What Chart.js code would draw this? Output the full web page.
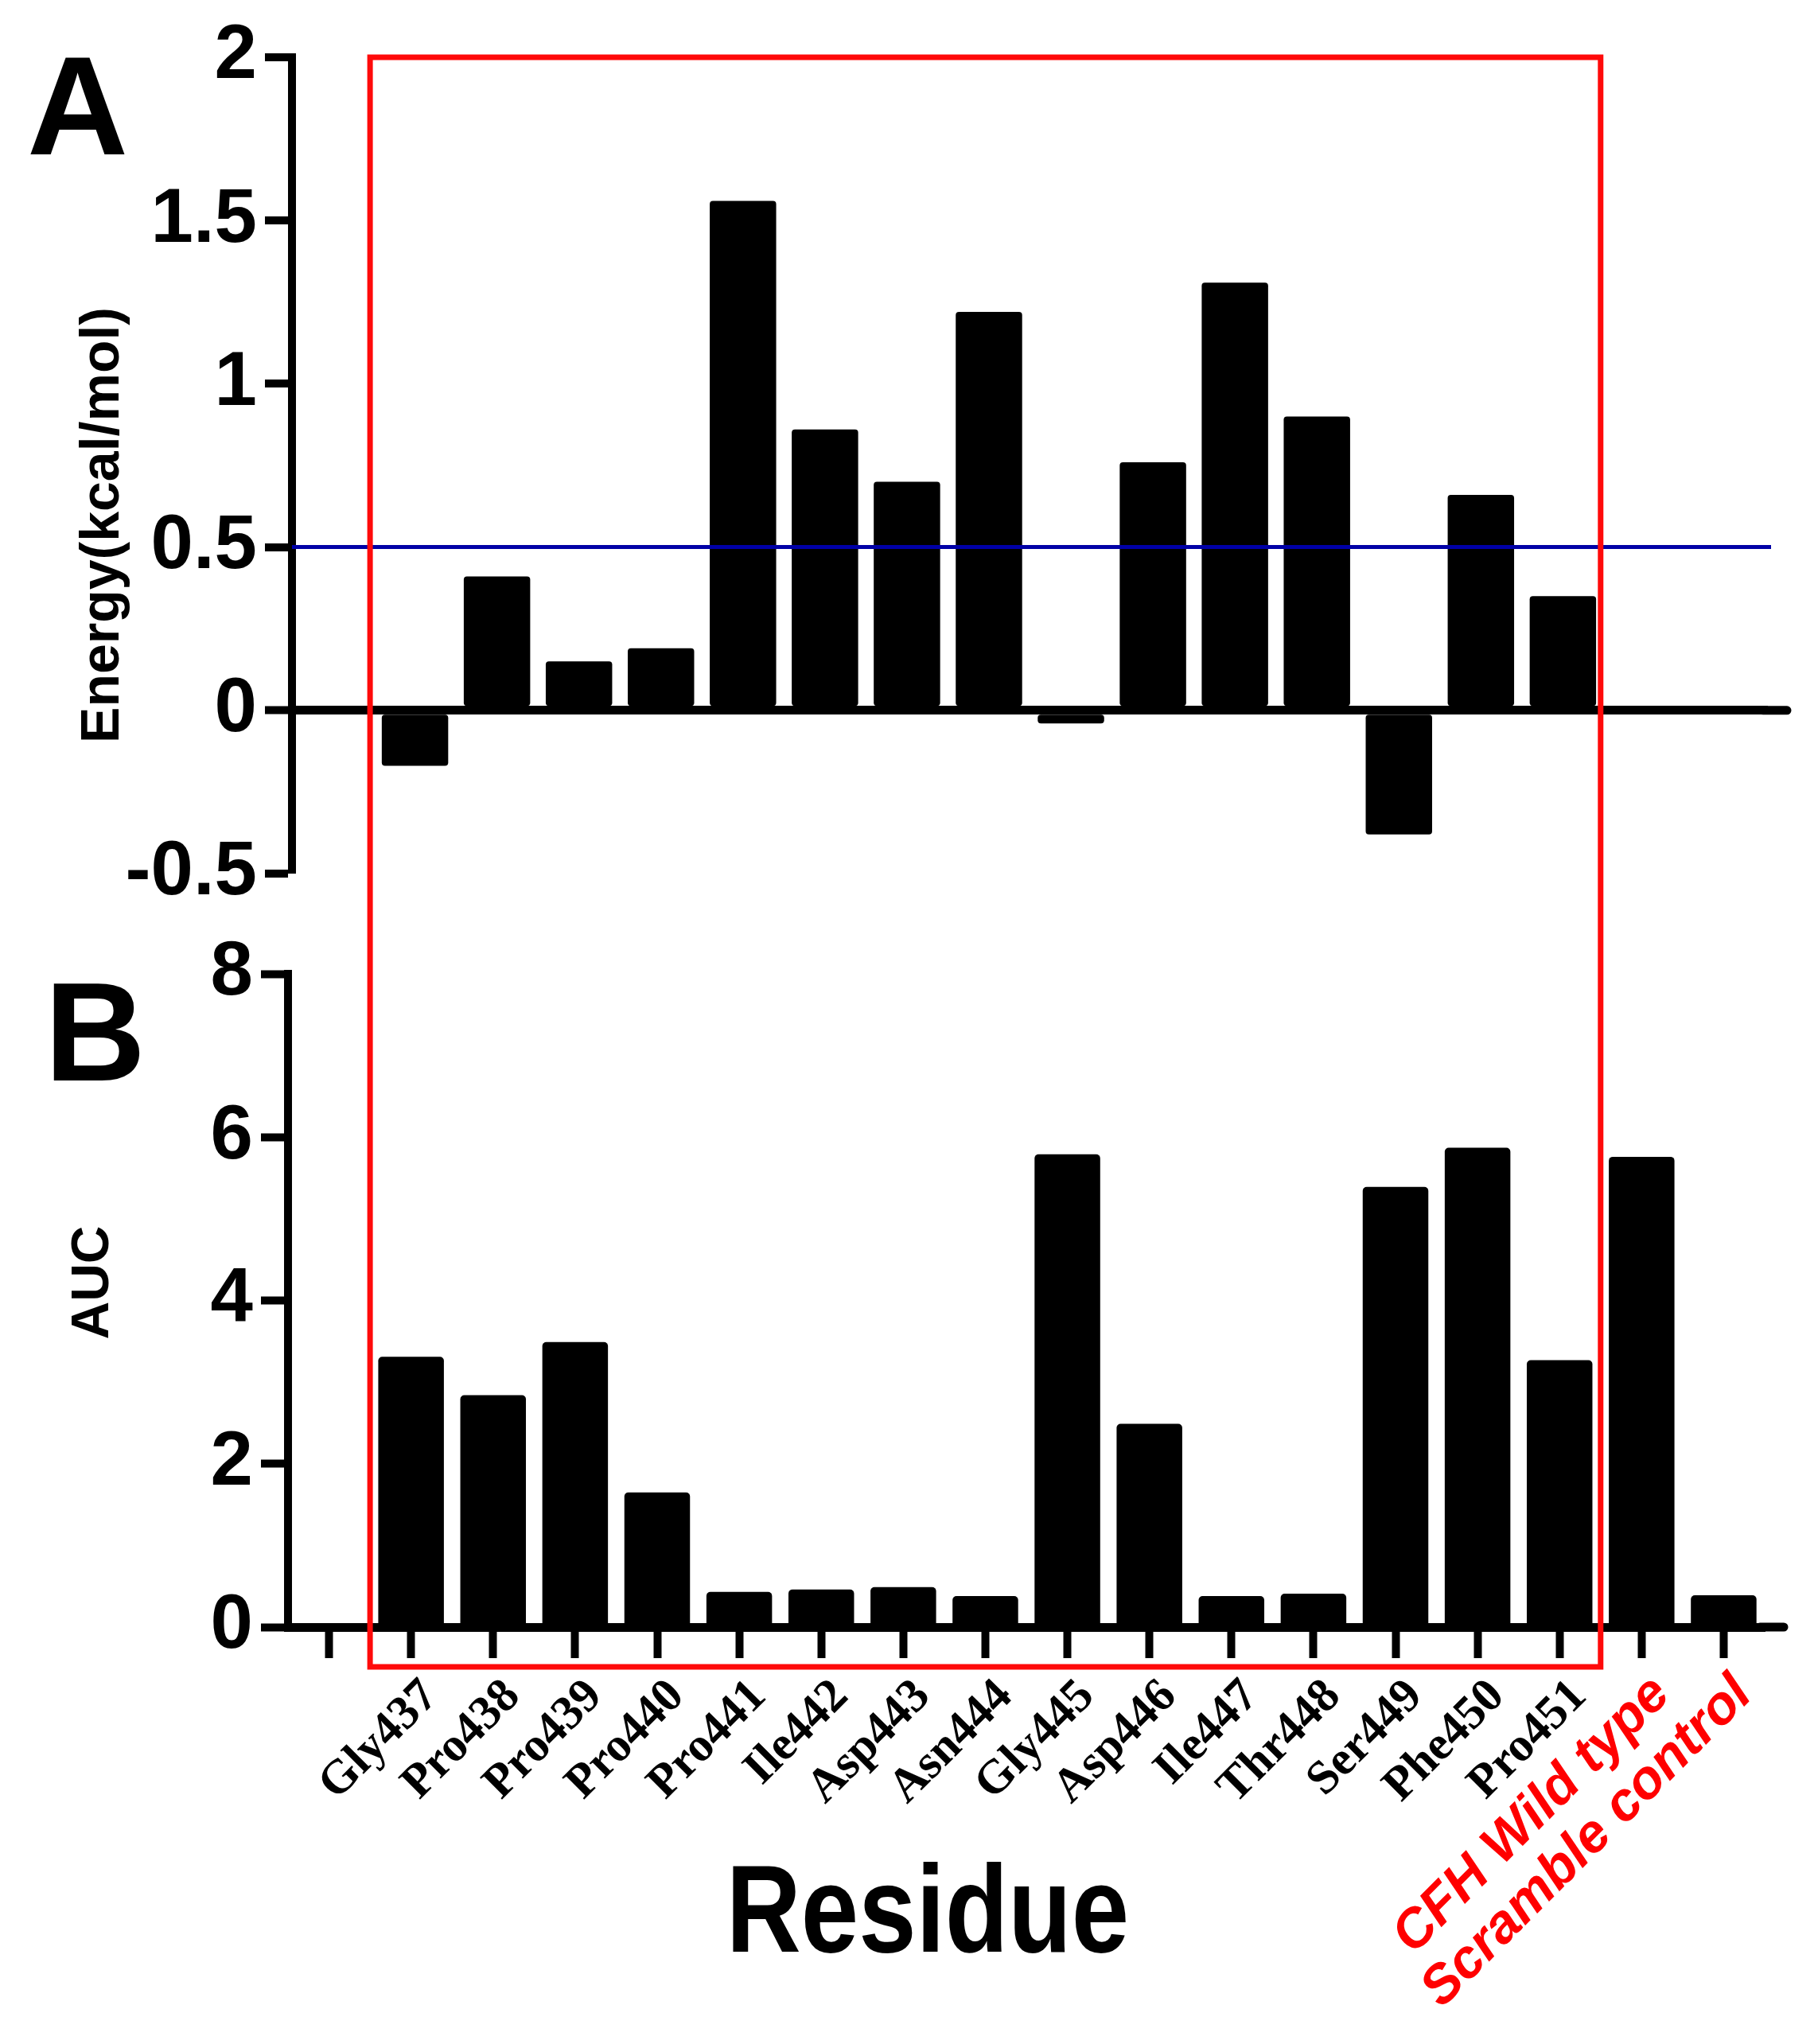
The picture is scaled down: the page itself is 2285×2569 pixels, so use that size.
<!DOCTYPE html>
<html>
<head>
<meta charset="utf-8">
<script src="https://cdn.jsdelivr.net/npm/chart.js@4.4.1/dist/chart.umd.min.js"></script>
<style>
  html, body { margin: 0; padding: 0; background: #ffffff; }
  #wrap { position: relative; width: 2285px; height: 2569px; background: #ffffff; }
  canvas { position: absolute; left: 0; top: 0; }
</style>
</head>
<body>
<div id="wrap">
  <canvas id="chartA" width="2285" height="2569"></canvas>
  <canvas id="chartB" width="2285" height="2569"></canvas>
</div>
<script>
// ---------------- data ----------------
const categories = ['', 'Gly437', 'Pro438', 'Pro439', 'Pro440', 'Pro441', 'Ile442', 'Asp443',
  'Asn444', 'Gly445', 'Asp446', 'Ile447', 'Thr448', 'Ser449', 'Phe450', 'Pro451',
  'CFH Wild type', 'Scramble control'];
const controlLabels = ['CFH Wild type', 'Scramble control'];

// Panel A: binding energy per residue (Gly437 ... Pro451)
const energyValues = [-0.17, 0.41, 0.15, 0.19, 1.56, 0.86, 0.70, 1.22, -0.04, 0.76, 1.31, 0.90, -0.38, 0.66, 0.35];
const energyThreshold = [0.5];
const energyTicks = [-0.5, 0, 0.5, 1, 1.5, 2];

// Panel B: AUC per residue plus controls (Gly437 ... Pro451, CFH Wild type, Scramble control)
const aucValues = [3.31, 2.84, 3.49, 1.65, 0.43, 0.46, 0.49, 0.38, 5.79, 2.49, 0.38, 0.41, 5.39, 5.87, 3.27, 5.76, 0.39];
const aucTicks = [0, 2, 4, 6, 8];

const panelLabels = ['A', 'B'];
const axisTitles = ['Energy(kcal/mol)', 'AUC', 'Residue'];

// ---------------- helpers ----------------
Chart.defaults.font.family = 'Liberation Sans';
Chart.defaults.color = '#000';

const energyData = [null].concat(energyValues, [null, null]);
const aucData = [null].concat(aucValues);
const tickStep = arr => arr[1] - arr[0];

let chartARef = null;

function extendZeroLine(chart, yScale, width) {
  const { ctx, chartArea } = chart;
  const py = yScale.getPixelForValue(0);
  ctx.save();
  ctx.strokeStyle = '#000';
  ctx.lineWidth = width;
  ctx.lineCap = 'round';
  ctx.beginPath();
  ctx.moveTo(chartArea.right - 6, py);
  ctx.lineTo(chartArea.right + 24, py);
  ctx.stroke();
  ctx.restore();
}

const panelAPlugin = {
  id: 'panelAPlugin',
  afterDatasetsDraw(chart) {
    const { ctx, chartArea, scales } = chart;
    extendZeroLine(chart, scales.y, 11);
    const py = scales.y.getPixelForValue(energyThreshold[0]);
    ctx.save();
    ctx.strokeStyle = '#0000a6';
    ctx.lineWidth = 5;
    ctx.beginPath();
    ctx.moveTo(chartArea.left, py);
    ctx.lineTo(chartArea.right + 4, py);
    ctx.stroke();
    ctx.restore();
  },
  afterDraw(chart) {
    const { ctx } = chart;
    ctx.save();
    ctx.fillStyle = '#000';
    ctx.font = 'bold 176px "Liberation Sans"';
    ctx.textAlign = 'left';
    ctx.textBaseline = 'alphabetic';
    ctx.fillText(panelLabels[0], 34, 194);
    // y title
    ctx.translate(130, 660);
    ctx.rotate(-Math.PI / 2);
    ctx.font = 'bold 68px "Liberation Sans"';
    ctx.textAlign = 'center';
    ctx.textBaseline = 'middle';
    ctx.fillText(axisTitles[0], 0, 0);
    ctx.restore();
  }
};

const panelBPlugin = {
  id: 'panelBPlugin',
  afterDraw(chart) {
    const { ctx, chartArea, scales } = chart;
    extendZeroLine(chart, scales.y, 11);
    ctx.save();
    ctx.fillStyle = '#000';
    ctx.font = 'bold 176px "Liberation Sans"';
    ctx.textAlign = 'left';
    ctx.textBaseline = 'alphabetic';
    ctx.fillText(panelLabels[1], 56, 1358);

    // x title
    ctx.save();
    ctx.translate(1166, 2453);
    ctx.scale(0.84, 1);
    ctx.font = 'bold 155px "Liberation Sans"';
    ctx.textAlign = 'center';
    ctx.fillText(axisTitles[2], 0, 0);
    ctx.restore();

    // y title
    ctx.save();
    ctx.translate(118, 1612);
    ctx.rotate(-Math.PI / 2);
    ctx.font = 'bold 66px "Liberation Sans"';
    ctx.textAlign = 'center';
    ctx.textBaseline = 'middle';
    ctx.fillText(axisTitles[1], 0, 0);
    ctx.restore();

    // red highlight box around the residue categories
    const x = scales.x;
    const left = (x.getPixelForValue(0) + x.getPixelForValue(1)) / 2;
    const right = (x.getPixelForValue(15) + x.getPixelForValue(16)) / 2;
    const top = chartARef ? chartARef.scales.y.getPixelForValue(energyTicks[energyTicks.length - 1]) : 70;
    const bottom = chartArea.bottom + 50;
    ctx.strokeStyle = '#ff0a0a';
    ctx.lineWidth = 7;
    ctx.strokeRect(left, top, right - left, bottom - top);
    ctx.restore();
  }
};

// ---------------- Panel A ----------------
chartARef = new Chart(document.getElementById('chartA'), {
  type: 'bar',
  data: {
    labels: categories,
    datasets: [{
      label: 'Energy',
      data: energyData,
      backgroundColor: '#000',
      borderWidth: 0,
      borderRadius: 4,
      borderSkipped: false,
      barPercentage: 0.81,
      categoryPercentage: 1.0
    }]
  },
  options: {
    responsive: false,
    devicePixelRatio: 1,
    animation: false,
    layout: { padding: { left: 0, top: 72, right: 63, bottom: 1471 } },
    plugins: { legend: { display: false }, tooltip: { enabled: false } },
    scales: {
      x: { display: false },
      y: {
        min: energyTicks[0],
        max: energyTicks[energyTicks.length - 1],
        afterFit(scale) { scale.width = 367; },
        ticks: {
          stepSize: tickStep(energyTicks),
          color: '#000',
          padding: 10,
          callback: v => String(v),
          font: { family: 'Liberation Sans', size: 96, weight: 'bold' }
        },
        grid: {
          drawOnChartArea: true,
          drawTicks: true,
          color: c => (c.tick && c.tick.value === 0) ? '#000' : 'rgba(0,0,0,0)',
          lineWidth: c => (c.tick && c.tick.value === 0) ? 11 : 0,
          tickColor: '#000',
          tickWidth: 10,
          tickLength: 34
        },
        border: { display: true, color: '#000', width: 10 }
      }
    }
  },
  plugins: [panelAPlugin]
});

// ---------------- Panel B ----------------
new Chart(document.getElementById('chartB'), {
  type: 'bar',
  data: {
    labels: categories,
    datasets: [{
      label: 'AUC',
      data: aucData,
      backgroundColor: '#000',
      borderWidth: 0,
      borderRadius: 5,
      borderSkipped: 'start',
      barPercentage: 0.8,
      categoryPercentage: 1.0
    }]
  },
  options: {
    responsive: false,
    devicePixelRatio: 1,
    animation: false,
    layout: { padding: { left: 0, top: 1224, right: 67, bottom: 30 } },
    plugins: { legend: { display: false }, tooltip: { enabled: false } },
    scales: {
      x: {
        afterFit(scale) { scale.height = 494; },
        ticks: {
          autoSkip: false,
          minRotation: 45,
          maxRotation: 45,
          padding: 5,
          labelOffset: 25,
          color: c => controlLabels.includes(categories[c.index]) ? '#ff0000' : '#000',
          font: c => controlLabels.includes(categories[c.index])
            ? { family: 'Liberation Sans', size: 68, weight: 'bold', style: 'italic', lineHeight: 1.25 }
            : { family: 'Liberation Serif', size: 60, weight: 'bold', lineHeight: 1.6 }
        },
        grid: {
          display: true,
          drawOnChartArea: false,
          drawTicks: true,
          offset: false,
          color: '#000',
          tickColor: '#000',
          tickWidth: 10,
          tickLength: 39
        },
        border: { display: true, color: '#000', width: 11 }
      },
      y: {
        min: aucTicks[0],
        max: aucTicks[aucTicks.length - 1],
        afterFit(scale) { scale.width = 362; },
        ticks: {
          stepSize: tickStep(aucTicks),
          color: '#000',
          padding: 10,
          callback: v => String(v),
          font: { family: 'Liberation Sans', size: 96, weight: 'bold' }
        },
        grid: {
          drawOnChartArea: false,
          drawTicks: true,
          color: '#000',
          tickColor: '#000',
          tickWidth: 10,
          tickLength: 34
        },
        border: { display: true, color: '#000', width: 10 }
      }
    }
  },
  plugins: [panelBPlugin]
});
</script>
</body>
</html>
